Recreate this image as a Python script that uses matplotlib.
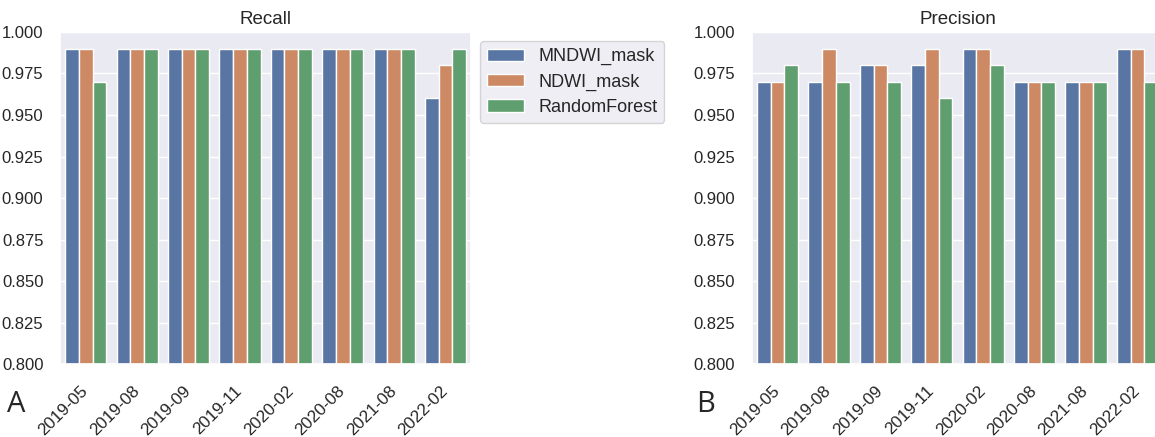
import pandas as pd
import matplotlib
matplotlib.use('agg')
import matplotlib.pyplot as plt
from matplotlib.transforms import offset_copy
import seaborn as sns

dates = ['2019-05', '2019-08', '2019-09', '2019-11', '2020-02', '2020-08', '2021-08', '2022-02']
methods = ['MNDWI_mask', 'NDWI_mask', 'RandomForest']

recall_mndwi = [0.99, 0.99, 0.99, 0.99, 0.99, 0.99, 0.99, 0.96]
recall_ndwi = [0.99, 0.99, 0.99, 0.99, 0.99, 0.99, 0.99, 0.98]
recall_rf = [0.97, 0.99, 0.99, 0.99, 0.99, 0.99, 0.99, 0.99]

precision_mndwi = [0.97, 0.97, 0.98, 0.98, 0.99, 0.97, 0.97, 0.99]
precision_ndwi = [0.97, 0.99, 0.98, 0.99, 0.99, 0.97, 0.97, 0.99]
precision_rf = [0.98, 0.97, 0.97, 0.96, 0.98, 0.97, 0.97, 0.97]

yticks = [0.8, 0.825, 0.85, 0.875, 0.9, 0.925, 0.95, 0.975, 1.0]


def make_df(a, b, c):
    rows = []
    for vals, m in zip([a, b, c], methods):
        for d, v in zip(dates, vals):
            rows.append({'date': d, 'method': m, 'value': v})
    return pd.DataFrame(rows)


sns.set_theme(style='darkgrid')
plt.rcParams['font.family'] = ['Liberation Sans', 'DejaVu Sans']

fig = plt.figure(figsize=(11.55, 4.37), dpi=100)
ax1 = fig.add_axes([0.052, 0.166, 0.356, 0.761])
ax2 = fig.add_axes([0.651, 0.166, 0.356, 0.761])

recall = make_df(recall_mndwi, recall_ndwi, recall_rf)
precision = make_df(precision_mndwi, precision_ndwi, precision_rf)

sns.barplot(data=recall, x='date', y='value', hue='method', ax=ax1, edgecolor='white')
sns.barplot(data=precision, x='date', y='value', hue='method', ax=ax2, edgecolor='white')

for ax, title in [(ax1, 'Recall'), (ax2, 'Precision')]:
    ax.set_ylim(0.8, 1.0)
    ax.set_title(title, fontsize=13.5)
    ax.set_xlabel('')
    ax.set_ylabel('')
    ax.tick_params(axis='y', labelsize=12, pad=6)
    ax.tick_params(axis='x', labelsize=12.3, pad=7.5)
    ax.set_yticks(yticks)
    ax.set_yticklabels(['%.3f' % t for t in yticks])
    for lab in ax.get_xticklabels():
        lab.set_rotation(45)
        lab.set_ha('right')
        lab.set_transform(offset_copy(lab.get_transform(), fig=fig, x=5, y=0, units='dots'))

ax2.get_legend().remove()
ax1.legend(loc='upper left', bbox_to_anchor=(1.0, 1.0), fontsize=13, labelspacing=0.45)

fig.text(0.006, 0.058, 'A', fontsize=21, family='Open Sans')
fig.text(0.603, 0.058, 'B', fontsize=21, family='Open Sans')

fig.savefig('out.png', dpi=100)
